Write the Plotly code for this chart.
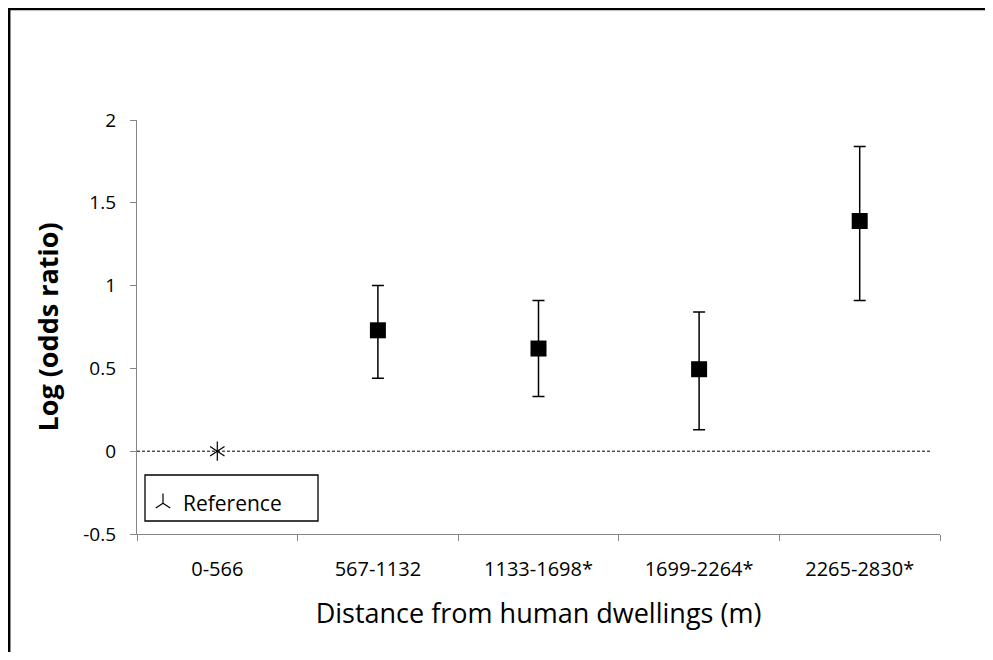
import plotly.graph_objects as go

categories = ["0-566", "567-1132", "1133-1698*", "1699-2264*", "2265-2830*"]
ref_category = ["0-566"]
ref_value = [0.0]
est_categories = ["567-1132", "1133-1698*", "1699-2264*", "2265-2830*"]
log_odds = [0.73, 0.62, 0.495, 1.39]
ci_lower = [0.44, 0.33, 0.13, 0.91]
ci_upper = [1.00, 0.91, 0.84, 1.84]
y_ticks = [-0.5, 0, 0.5, 1, 1.5, 2]
y_ticklabels = ["-0.5", "0", "0.5", "1", "1.5", "2"]

# page has an 8px body margin: figure sits at (8, 8)
OFF = 8
W, H = 977, 644
L, T = 137 - OFF, 120 - OFF
R = W - (940 - OFF)
B = H - (534 - OFF)
pw, ph = W - L - R, H - T - B


def px(xpage):
    return (xpage - OFF - L) / pw


def py(ypage):
    return (H - B - (ypage - OFF)) / ph


FONT = "'Open Sans', 'Noto Sans', sans-serif"

fig = go.Figure()

fig.add_trace(go.Scatter(
    x=est_categories, y=log_odds, mode="markers",
    marker=dict(symbol="square", size=16, color="black"),
    error_y=dict(type="data", symmetric=False,
                 array=[u - c for u, c in zip(ci_upper, log_odds)],
                 arrayminus=[c - l for c, l in zip(log_odds, ci_lower)],
                 color="black", thickness=1.5, width=6),
    showlegend=False, hoverinfo="skip"))

fig.add_trace(go.Scatter(
    x=ref_category, y=ref_value, mode="markers", name="Reference",
    marker=dict(symbol="y-up-open", size=12, color="black", line=dict(color="black", width=1.2)),
    legendgroup="ref", showlegend=True))
fig.add_trace(go.Scatter(
    x=ref_category, y=ref_value, mode="markers", name="Reference",
    marker=dict(symbol="y-down-open", size=12, color="black", line=dict(color="black", width=1.2)),
    legendgroup="ref", showlegend=False))

shapes = [
    dict(type="line", xref="paper", yref="y", x0=0, x1=px(930), y0=0, y1=0,
         line=dict(color="black", width=1, dash="3px,2px"), layer="below"),
    dict(type="rect", xref="paper", yref="paper",
         x0=px(145), x1=px(318), y0=py(521), y1=py(475),
         line=dict(color="black", width=1.3), fillcolor="rgba(0,0,0,0)"),
    dict(type="rect", xref="paper", yref="paper",
         x0=px(9.2), x1=px(1100), y0=py(800), y1=py(9.0),
         line=dict(color="black", width=2.5), fillcolor="rgba(0,0,0,0)"),
]

fig.update_layout(
    width=W, height=H,
    margin=dict(l=L, r=R, t=T, b=B, pad=0),
    paper_bgcolor="white", plot_bgcolor="white",
    font=dict(family=FONT, color="black", size=18),
    shapes=shapes,
    legend=dict(x=px(143), y=py(483), xanchor="left", yanchor="top",
                bgcolor="rgba(0,0,0,0)", borderwidth=0, itemwidth=30,
                font=dict(family=FONT, size=21, color="black")),
    xaxis=dict(type="category", categoryorder="array", categoryarray=categories,
               range=[-0.5, 4.5], showgrid=False, zeroline=False,
               showline=True, linecolor="#868686", linewidth=1.3,
               ticks="outside", tickson="boundaries", ticklen=6, tickcolor="#868686",
               tickfont=dict(size=20, family=FONT), ticklabelstandoff=17,
               title=dict(text="Distance from human dwellings (m)", font=dict(size=27, family=FONT), standoff=22)),
    yaxis=dict(range=[-0.5, 2], tickvals=y_ticks, ticktext=y_ticklabels,
               showgrid=False, zeroline=False,
               showline=True, linecolor="#868686", linewidth=1.3,
               ticks="outside", ticklen=6, tickcolor="#868686",
               tickfont=dict(size=19, family=FONT), ticklabelstandoff=10,
               title=dict(text="<b>Log (odds ratio)</b>", font=dict(size=27, family=FONT), standoff=16)),
)

fig.write_html("out.html")
